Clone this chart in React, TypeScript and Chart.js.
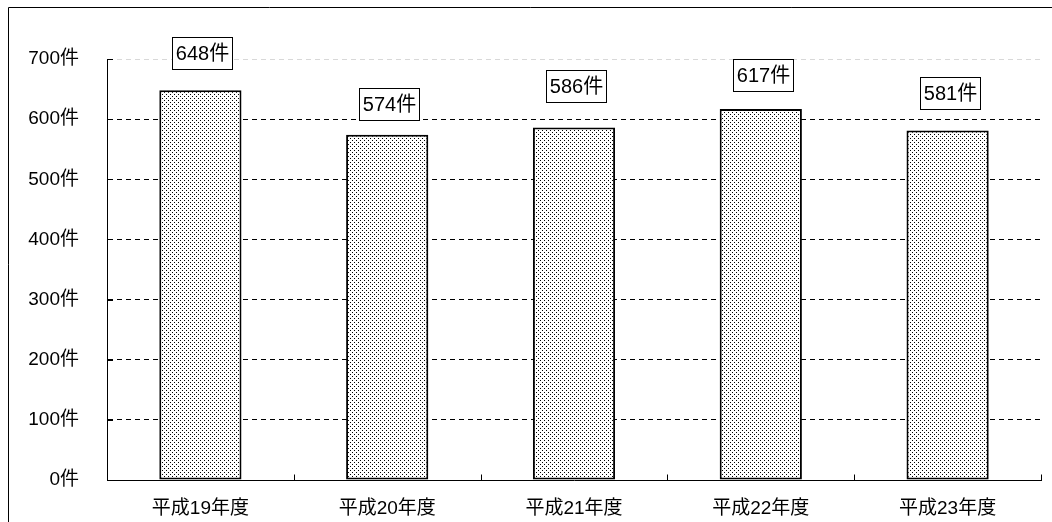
import React, { useEffect, useRef } from "react";
import { Chart, registerables } from "chart.js";

Chart.register(...registerables);

// Fiscal years and yearly case counts
const categories = ["平成19年度", "平成20年度", "平成21年度", "平成22年度", "平成23年度"];
const counts = [648, 574, 586, 617, 581];
const yTickValues = [0, 100, 200, 300, 400, 500, 600, 700];
const unit = "件";

// Gap (px) between each value box and the top of its bar
const labelGap = [21, 15, 26, 18, 22];

const FONT = '"Liberation Sans", Arial, "Noto Sans CJK JP", sans-serif';

function makeDotPattern(): CanvasPattern | string {
  const tile = document.createElement("canvas");
  tile.width = 4;
  tile.height = 4;
  const t = tile.getContext("2d");
  if (!t) return "#ddd";
  t.fillStyle = "#ffffff";
  t.fillRect(0, 0, 4, 4);
  t.fillStyle = "#000000";
  t.fillRect(0, 0, 1, 1);
  t.fillRect(2, 2, 1, 1);
  const ctx = document.createElement("canvas").getContext("2d");
  return (ctx && ctx.createPattern(tile, "repeat")) || "#ddd";
}

// Outer frame plus the short inner tick marks on both axes
const framePlugin = {
  id: "frameAndTicks",
  afterDraw(chart: any) {
    const { ctx } = chart;
    const x = chart.scales.x;
    const y = chart.scales.y;
    ctx.save();
    ctx.strokeStyle = "#000";
    ctx.lineWidth = 1;
    ctx.beginPath();
    ctx.moveTo(8.5, chart.height);
    ctx.lineTo(8.5, 7.5);
    ctx.lineTo(chart.width, 7.5);
    ctx.stroke();

    ctx.beginPath();
    yTickValues.forEach((v) => {
      const py = Math.round(y.getPixelForValue(v)) + 0.5;
      ctx.moveTo(y.right, py);
      ctx.lineTo(y.right + 6, py);
    });
    const half = (x.getPixelForValue(1) - x.getPixelForValue(0)) / 2;
    const base = Math.round(y.getPixelForValue(0)) + 0.5;
    for (let i = 0; i <= categories.length; i++) {
      const px = Math.round(x.getPixelForValue(i) - half) + 0.5;
      ctx.moveTo(px, base);
      ctx.lineTo(px, base - 6);
    }
    ctx.stroke();
    ctx.restore();
  },
};

// Boxed value labels above each bar
const valueBoxPlugin = {
  id: "valueBoxes",
  afterDatasetsDraw(chart: any) {
    const { ctx } = chart;
    const meta = chart.getDatasetMeta(0);
    ctx.save();
    ctx.font = `20px ${FONT}`;
    ctx.textAlign = "center";
    ctx.textBaseline = "middle";
    meta.data.forEach((bar: any, i: number) => {
      const text = `${counts[i]}${unit}`;
      const w = Math.round(ctx.measureText(text).width + 7);
      const h = 32;
      const bottom = bar.y - labelGap[i];
      const left = Math.round(bar.x + 2 - w / 2) + 0.5;
      const top = Math.round(bottom - h) + 0.5;
      ctx.fillStyle = "#fff";
      ctx.fillRect(left, top, w, h);
      ctx.strokeStyle = "#000";
      ctx.lineWidth = 1;
      ctx.strokeRect(left, top, w, h);
      ctx.fillStyle = "#000";
      ctx.fillText(text, left + w / 2, top + h / 2 + 1);
    });
    ctx.restore();
  },
};

export default function App() {
  const canvasRef = useRef<HTMLCanvasElement | null>(null);

  useEffect(() => {
    if (!canvasRef.current) return;
    const pattern = makeDotPattern();
    const chart = new Chart(canvasRef.current, {
      type: "bar",
      data: {
        labels: categories,
        datasets: [
          {
            data: counts,
            backgroundColor: pattern as any,
            borderColor: "#000",
            borderWidth: 2,
            borderSkipped: false,
            barPercentage: 0.44,
            categoryPercentage: 1,
          },
        ],
      },
      options: {
        animation: false,
        responsive: true,
        maintainAspectRatio: false,
        layout: { padding: { left: 0, top: 59, right: 11, bottom: 0 } },
        plugins: {
          legend: { display: false },
          tooltip: { enabled: false },
        },
        scales: {
          x: {
            offset: true,
            grid: { display: false, drawTicks: false },
            border: { display: true, color: "#000", width: 1 },
            ticks: {
              color: "#000",
              padding: 17,
              font: { family: FONT, size: 19 },
            },
            afterFit(scale: any) {
              scale.height = 42;
            },
          },
          y: {
            min: 0,
            max: 700,
            grid: {
              drawTicks: false,
              lineWidth: 1,
              color: (c: any) =>
                c.tick && c.tick.value === 0
                  ? "rgba(0,0,0,0)"
                  : c.tick && c.tick.value === 700
                  ? "#d8d8d8"
                  : "#000",
            },
            // dashed horizontal gridlines; the axis line itself stays solid
            border: { display: true, color: "#000", width: 1, dash: [5, 4] },
            ticks: {
              stepSize: 100,
              color: "#000",
              padding: 28,
              font: { family: FONT, size: 19 },
              callback: (v: any) => `${v}${unit}`,
            },
            afterFit(scale: any) {
              scale.width = 107;
            },
          },
        },
      },
      plugins: [framePlugin, valueBoxPlugin],
    });
    return () => chart.destroy();
  }, []);

  return (
    <div style={{ position: "fixed", left: 0, top: 0, width: 1052, height: 522, background: "#fff" }}>
      <canvas ref={canvasRef} />
    </div>
  );
}
